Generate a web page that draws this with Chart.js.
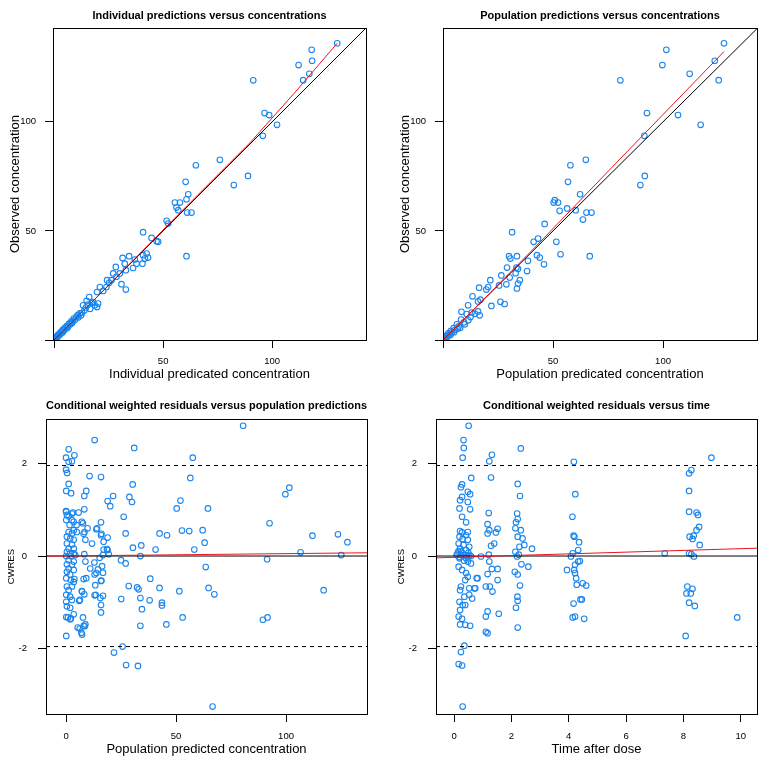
<!DOCTYPE html>
<html>
<head>
<meta charset="utf-8">
<script src="https://cdn.jsdelivr.net/npm/chart.js@4.4.1/dist/chart.umd.min.js"></script>
<style>
  body { margin: 0; background: #fff; width: 775px; height: 762px; position: relative; overflow: hidden; }
  canvas { position: absolute; }
</style>
</head>
<body>
<canvas id="p1" width="385" height="387" style="left:0;top:0"></canvas>
<canvas id="p2" width="385" height="387" style="left:390px;top:0"></canvas>
<canvas id="p3" width="385" height="372" style="left:0;top:390px"></canvas>
<canvas id="p4" width="385" height="372" style="left:390px;top:390px"></canvas>
<script>
// individual predictions (x) vs observed (y)
const indivPoints = [
  [129.8,136.0],[118.1,133.0],[118.3,128.0],[112.1,126.0],[117.0,122.0],[114.2,119.1],[91.3,119.0],
  [96.5,104.0],[98.6,103.1],[102.2,98.6],[95.7,93.6],[76.0,82.6],[65.0,80.1],[60.3,72.5],[88.9,75.2],
  [82.4,71.0],[61.5,66.8],[60.7,64.5],[55.4,63.0],[57.7,63.0],[56.1,60.7],[56.9,59.5],[61.0,58.4],
  [63.0,58.4],[51.6,54.6],[52.3,53.4],[40.8,49.4],[44.7,46.8],[47.0,45.3],[47.7,45.0],[60.7,38.4],
  [34.4,38.4],[31.4,37.6],[40.8,38.9],[42.4,39.6],[43.1,37.8],[41.6,37.3],[40.5,35.0],[37.0,36.9],
  [37.8,35.0],[36.2,33.0],[28.3,33.5],[32.4,35.0],[32.9,32.0],[30.1,30.5],[27.1,30.5],[28.6,29.0],
  [30.9,25.6],[32.9,23.1],[26.3,27.4],[25.2,26.2],[24.3,27.4],[21.0,24.3],[22.5,22.5],[19.7,22.0],
  [24.0,24.3],[16.1,19.7],[14.9,17.9],[17.9,17.4],[20.2,16.7],[19.7,15.1],[13.3,15.9],[17.3,17.0],
  [18.6,15.9],[16.5,14.3],[12.8,12.5],[13.9,13.6],[11.8,12.2],[12.4,11.3],[10.9,11.4],[10.2,10.6],
  [9.6,9.3],[9.0,9.8],[8.5,8.3],[7.9,8.6],[7.4,7.2],[6.9,7.5],[6.4,6.1],[5.9,6.5],[5.4,5.3],
  [4.9,5.6],[4.5,4.3],[4.0,4.6],[3.6,3.4],[3.2,3.7],[2.8,2.6],[2.4,2.9],[2.0,1.9],[1.7,2.2],
  [1.4,1.2],[1.1,1.5],[0.8,0.7],[0.6,0.9],[0.4,0.3],[0.3,0.6],[0.2,0.1],[14.6,14.9],[15.4,16.2],
  [11.2,10.4],[8.1,7.7],[6.1,5.6],[3.9,3.6],[2.2,2.4],[1.0,0.9],[0.5,0.4]
];
const indivFit = [[0.3,0.2],[30,30.2],[60,60.6],[90,90.6],[110,113],[129.8,136]];

// population predictions (x) vs observed (y)
const popPoints = [
  [127.7,136.0],[101.5,133.0],[99.7,126.0],[112.1,122.0],[123.5,128.0],[125.3,119.1],[80.6,119.0],
  [92.7,104.0],[106.8,103.1],[117.1,98.6],[91.5,93.6],[64.9,82.6],[57.9,80.1],[56.8,72.5],[91.7,75.2],
  [89.7,71.0],[62.3,66.8],[50.8,64.1],[50.3,63.0],[52.3,63.0],[56.4,60.3],[53.0,59.2],[60.3,59.5],
  [65.2,58.4],[67.5,58.4],[63.6,55.2],[46.2,53.2],[31.4,49.4],[51.5,45.0],[43.2,46.5],[41.2,45.0],
  [66.7,38.4],[53.4,39.3],[30.0,38.4],[30.6,37.3],[33.6,38.4],[42.7,38.9],[44.0,37.8],[45.9,34.7],
  [38.6,36.3],[33.4,33.2],[29.1,33.2],[38.2,31.6],[34.1,32.6],[33.0,30.6],[30.3,28.6],[28.8,25.5],
  [26.5,29.6],[25.5,25.0],[21.5,27.4],[20.5,24.3],[19.7,23.1],[16.4,24.0],[13.4,20.0],[17.0,18.5],
  [15.9,17.7],[11.4,15.9],[8.4,12.9],[22.0,15.6],[26.1,17.5],[28.0,16.5],[34.1,25.9],[33.6,23.6],
  [34.9,27.4],[15.9,13.1],[16.7,11.3],[14.5,12.0],[12.5,10.5],[10.8,11.9],[9.5,8.1],[8.2,9.4],
  [7.1,6.2],[6.3,7.2],[5.5,4.6],[4.8,5.4],[4.0,3.5],[3.5,4.1],[2.9,2.6],[2.4,3.1],[2.0,1.6],
  [1.6,2.0],[1.2,1.0],[0.9,1.3],[0.6,0.5],[0.4,0.8],[0.2,0.2],[5.0,3.6],[7.8,5.6],[9.9,7.2],
  [11.5,9.0],[3.4,2.3],[13.0,12.6],[6.6,5.2],[1.8,1.2],[0.8,0.4]
];
const popFit = [[0.3,0.2],[40,40.6],[80,82.5],[127.7,132.2]];

// CWRES vs population prediction
const cwresPredPoints = [
  [80.5,2.82],[13.0,2.51],[31.0,2.34],[57.6,2.13],[1.2,2.31],[3.8,2.18],[2.7,2.05],[0.0,2.13],
  [1.2,2.04],[0.0,1.87],[0.5,1.80],[10.7,1.73],[15.9,1.71],[56.5,1.69],[1.2,1.56],[30.3,1.55],
  [0.1,1.41],[2.3,1.36],[9.2,1.41],[8.3,1.30],[101.5,1.48],[99.7,1.34],[21.4,1.30],[18.9,1.19],
  [20.1,1.08],[28.8,1.28],[30.0,1.17],[52.0,1.20],[50.3,1.03],[64.5,1.03],[26.2,0.85],[5.7,0.94],
  [3.2,0.94],[8.3,1.01],[92.5,0.71],[0.0,0.97],[1.2,0.86],[2.7,0.78],[7.7,0.71],[9.8,0.60],
  [14.1,0.60],[15.9,0.73],[4.8,0.67],[42.5,0.49],[45.9,0.45],[52.7,0.55],[56.0,0.54],[62.1,0.56],
  [112.0,0.44],[123.6,0.47],[127.9,0.30],[27.1,0.49],[15.9,0.45],[18.9,0.40],[8.0,0.48],[11.8,0.27],
  [17.1,0.31],[63.0,0.29],[58.3,0.14],[40.7,0.14],[34.2,0.23],[30.4,0.18],[106.6,0.08],[125.1,0.02],
  [33.8,0.0],[91.4,-0.07],[17.1,0.14],[18.9,0.13],[16.8,0.02],[19.4,0.04],[15.3,-0.04],[8.3,0.04],
  [25.0,-0.09],[27.1,-0.16],[63.5,-0.24],[8.8,-0.12],[12.9,-0.14],[11.0,-0.27],[16.4,-0.22],
  [13.8,-0.37],[16.8,-0.36],[9.2,-0.48],[8.0,-0.50],[3.8,-0.50],[15.9,-0.54],[13.3,-0.63],
  [28.5,-0.65],[32.3,-0.68],[33.0,-0.72],[38.3,-0.49],[42.5,-0.69],[51.5,-0.76],[64.8,-0.69],
  [67.4,-0.83],[117.1,-0.74],[7.3,-0.77],[8.3,-0.83],[6.0,-0.97],[13.5,-0.84],[15.6,-0.91],
  [16.8,-0.86],[15.9,-1.06],[15.9,-1.22],[25.1,-0.93],[38.0,-0.96],[33.8,-0.91],[34.5,-1.15],
  [43.6,-1.01],[43.6,-1.07],[53.0,-1.33],[45.6,-1.48],[33.8,-1.51],[89.5,-1.38],[91.6,-1.33],
  [7.7,-1.33],[5.3,-1.55],[7.0,-1.66],[8.8,-1.48],[8.0,-1.51],[0.9,-1.33],[1.9,-1.37],[0.1,-1.73],
  [25.7,-1.96],[21.8,-2.09],[27.3,-2.36],[32.7,-2.38],[66.6,-3.26],
  [0.1,0.96],[0.4,0.89],[2.7,0.92],[0.1,0.78],[3.5,0.74],[1.6,0.67],[3.5,0.56],[1.2,0.52],
  [2.7,0.49],[4.9,0.52],[0.4,0.42],[1.9,0.38],[3.5,0.35],[0.4,0.27],[2.7,0.25],[1.2,0.16],
  [3.5,0.16],[0.4,0.09],[1.9,0.06],[3.5,0.06],[0.1,0.0],[2.2,0.0],[4.2,0.02],[1.2,-0.09],
  [3.5,-0.12],[0.4,-0.18],[2.7,-0.19],[1.2,-0.27],[3.5,-0.30],[0.4,-0.34],[1.9,-0.40],[0.1,-0.48],
  [2.2,-0.52],[3.5,-0.56],[0.4,-0.66],[2.7,-0.66],[1.2,-0.74],[0.1,-0.84],[1.9,-0.88],[0.1,-0.99],
  [2.7,-0.95],[0.4,-1.09],[1.9,-1.12],[0.1,-1.32],[2.2,-1.35],[3.5,-1.26],
  [7.2,0.74],[8.4,0.52],[8.8,0.35],[13.8,0.58],[16.1,0.48],[18.6,0.15],[14.5,-0.29],[13.0,-0.40],
  [16.1,-0.53],[7.2,-0.76],[6.3,-0.95],[8.5,-1.52],[6.2,-1.57],[7.3,-1.70],[13.0,-0.85]
];
const cwresPredFit = [[-9.1,-0.003],[136.8,0.07]];

// CWRES vs time after dose
const cwresTimePoints = [
  [0.51,2.82],[0.33,2.51],[0.34,2.34],[0.30,2.13],[0.60,1.69],[0.28,1.55],[0.24,1.49],[0.48,1.39],
  [0.56,1.34],[0.28,1.28],[0.21,1.21],[0.48,1.17],[0.56,1.01],[0.19,1.03],[0.28,0.85],[0.42,0.73],
  [0.21,0.54],[0.28,0.51],[0.48,0.52],[0.42,0.45],[0.19,0.42],[0.30,0.37],[0.48,0.35],[0.16,0.27],
  [0.33,0.24],[0.53,0.20],[0.21,0.16],[0.42,0.13],[0.09,0.02],[0.24,0.02],[0.36,0.02],[0.53,0.02],
  [0.59,0.0],[0.19,-0.05],[0.42,-0.05],[0.16,-0.23],[0.48,-0.12],[0.59,-0.16],[0.28,-0.30],
  [0.42,-0.37],[0.48,-0.45],[0.39,-0.52],[0.24,-0.66],[0.21,-0.74],[0.53,-0.70],[0.71,-0.70],
  [0.82,-0.48],[0.36,-0.88],[0.53,-0.84],[0.63,-0.92],[0.19,-0.99],[0.30,-1.06],[0.39,-1.06],
  [0.21,-1.17],[0.16,-1.31],[0.28,-1.36],[0.21,-1.48],[0.39,-1.49],[0.56,-1.51],[0.36,-1.94],
  [0.24,-2.08],[0.16,-2.34],[0.28,-2.37],[0.30,-3.26],[0.94,-0.01],[0.79,-0.48],[0.74,-0.70],
  [0.12,0.05],[0.20,-0.02],[0.30,0.06],[0.45,0.0],[0.25,0.10],[0.35,-0.10],[0.15,0.10],[0.50,0.07],
  [1.32,2.19],[1.23,2.05],[1.29,1.70],[1.21,0.93],[1.17,0.69],[1.23,0.56],[1.17,0.49],[1.52,0.59],
  [1.46,0.51],[1.29,0.22],[1.40,0.27],[1.21,0.03],[1.23,-0.12],[1.32,-0.28],[1.52,-0.28],
  [1.17,-0.39],[1.52,-0.52],[1.11,-0.66],[1.25,-0.66],[1.34,-0.77],[1.17,-1.20],[1.11,-1.31],
  [1.56,-1.25],[1.11,-1.64],[1.17,-1.67],
  [2.33,2.33],[2.22,1.56],[2.30,1.30],[2.20,0.92],[2.22,0.80],[2.16,0.73],[2.14,0.60],[2.33,0.56],
  [2.22,0.42],[2.39,0.38],[2.45,0.24],[2.28,0.20],[2.72,0.16],[2.14,0.09],[2.26,0.03],[2.20,-0.01],
  [2.35,-0.18],[2.59,-0.23],[2.12,-0.34],[2.22,-0.40],[2.30,-0.64],[2.21,-0.88],[2.22,-0.97],
  [2.16,-1.12],[2.22,-1.55],
  [4.18,2.04],[4.23,1.34],[4.13,0.85],[4.17,0.44],[4.20,0.42],[4.36,0.30],[4.33,0.13],[4.14,0.06],
  [4.08,-0.01],[4.39,-0.11],[4.33,-0.12],[4.22,-0.19],[3.94,-0.30],[4.19,-0.30],[4.22,-0.37],
  [4.26,-0.48],[4.28,-0.62],[4.49,-0.59],[4.61,-0.64],[4.46,-0.94],[4.17,-1.03],[4.22,-1.31],
  [4.54,-1.36],[4.14,-1.33],[4.41,-0.94],
  [8.98,2.13],[8.28,1.86],[8.20,1.79],[8.20,1.41],[8.20,0.96],[8.46,0.94],[8.51,0.89],[8.55,0.63],
  [8.46,0.56],[8.36,0.44],[8.22,0.42],[8.32,0.37],[8.57,0.24],[8.20,0.06],[8.28,0.04],[8.37,-0.01],
  [7.35,0.06],[8.14,-0.66],[8.32,-0.71],[8.11,-0.81],[8.26,-0.81],[8.20,-1.01],[8.40,-1.08],
  [8.08,-1.73],[9.88,-1.33]
];
const cwresTimeFit = [[-0.63,-0.04],[10.57,0.17]];

const concTicks = [0, 50, 100];
const cwresTicks = [-2, 0, 2];
const timeTicks = [0, 2, 4, 6, 8, 10];
const cwresLimit = 1.96;

const FONT = '"Liberation Sans", Arial, sans-serif';
const BLUE = '#1a86ee';
const RED = '#e8141b';

const pts = arr => arr.map(p => ({x: p[0], y: p[1]}));

const boxPlugin = {
  id: 'box',
  afterDatasetsDraw(chart) {
    const {ctx, chartArea: a} = chart;
    ctx.save();
    ctx.strokeStyle = '#000';
    ctx.lineWidth = 1;
    ctx.strokeRect(Math.round(a.left) + 0.5, Math.round(a.top) + 0.5,
      Math.round(a.right - a.left), Math.round(a.bottom - a.top));
    ctx.restore();
  }
};

function axis(o) {
  return {
    type: 'linear',
    position: o.pos,
    min: o.min,
    max: o.max,
    afterFit: s => { if (o.pos === 'left') s.width = o.size; else s.height = o.size; },
    afterBuildTicks: s => { s.ticks = o.ticks.map(v => ({value: v})); },
    grid: {display: true, drawOnChartArea: false, drawTicks: true, tickLength: 8, color: '#000', lineWidth: 1},
    border: {display: false},
    ticks: {
      color: '#000', font: {family: FONT, size: 9.5}, padding: o.pad,
      maxRotation: 0, autoSkip: false,
      callback: v => (o.hide || []).includes(v) ? '' : String(v)
    },
    title: {display: true, text: o.title, color: '#000', font: {family: FONT, size: o.tsize}, padding: o.tpad}
  };
}

function lineSet(arr, color, dash) {
  return {data: pts(arr), showLine: true, borderColor: color, borderWidth: 1, borderDash: dash || [],
          pointRadius: 0, fill: false, tension: 0};
}

function pointSet(arr) {
  return {data: pts(arr), showLine: false, pointStyle: 'circle', pointRadius: 2.8, pointBorderWidth: 1.1,
          pointBorderColor: BLUE, pointBackgroundColor: 'rgba(0,0,0,0)', borderColor: BLUE};
}

function makePanel(id, p) {
  new Chart(document.getElementById(id), {
    type: 'scatter',
    data: {datasets: p.datasets},
    options: {
      responsive: false,
      animation: false,
      events: [],
      layout: {padding: {left: 0, top: 0, right: p.right, bottom: 0}},
      plugins: {
        legend: {display: false},
        tooltip: {enabled: false},
        title: {display: true, text: p.title, fullSize: false, color: '#000',
                font: {family: FONT, size: 11, weight: 'bold'}, padding: p.titlePad}
      },
      scales: {x: p.x, y: p.y}
    },
    plugins: [boxPlugin]
  });
}

makePanel('p1', {
  title: 'Individual predictions versus concentrations',
  titlePad: {top: 9.4, bottom: 5.4}, right: 19,
  datasets: [lineSet(indivFit, RED), lineSet([[0, 0], [143, 143]], '#000'), pointSet(indivPoints)],
  x: axis({pos: 'bottom', min: -0.5, max: 143, ticks: concTicks, hide: [0], size: 47, pad: 8,
           title: 'Individual predicated concentration', tsize: 13, tpad: {bottom: 5.2}}),
  y: axis({pos: 'left', min: 0, max: 143, ticks: concTicks, hide: [0], size: 53, pad: 9,
           title: 'Observed concentration', tsize: 13, tpad: {top: 7.2}})
});

makePanel('p2', {
  title: 'Population predictions versus concentrations',
  titlePad: {top: 9.4, bottom: 5.4}, right: 18,
  datasets: [lineSet(popFit, RED), lineSet([[0, 0], [143, 143]], '#000'), pointSet(popPoints)],
  x: axis({pos: 'bottom', min: 0, max: 142.7, ticks: concTicks, hide: [0], size: 47, pad: 8,
           title: 'Population predicated concentration', tsize: 13, tpad: {bottom: 5.2}}),
  y: axis({pos: 'left', min: 0, max: 143, ticks: concTicks, hide: [0], size: 53, pad: 9,
           title: 'Observed concentration', tsize: 13, tpad: {top: 7.2}})
});

makePanel('p3', {
  title: 'Conditional weighted residuals versus population predictions',
  titlePad: {top: 9.4, bottom: 6.7}, right: 18,
  datasets: [
    lineSet(cwresPredFit, RED),
    lineSet([[-9.1, 0], [136.8, 0]], '#000'),
    lineSet([[-9.1, cwresLimit], [136.8, cwresLimit]], '#000', [4, 4]),
    lineSet([[-9.1, -cwresLimit], [136.8, -cwresLimit]], '#000', [4, 4]),
    pointSet(cwresPredPoints)
  ],
  x: axis({pos: 'bottom', min: -9.1, max: 136.8, ticks: concTicks, size: 48, pad: 9,
           title: 'Population predicted concentration', tsize: 13, tpad: {bottom: 5.2}}),
  y: axis({pos: 'left', min: -3.42, max: 2.96, ticks: cwresTicks, size: 46, pad: 11,
           title: 'CWRES', tsize: 9.5, tpad: {top: 5.3}})
});

makePanel('p4', {
  title: 'Conditional weighted residuals versus time',
  titlePad: {top: 9.4, bottom: 6.7}, right: 18,
  datasets: [
    lineSet(cwresTimeFit, RED),
    lineSet([[-0.63, 0], [10.57, 0]], '#000'),
    lineSet([[-0.63, cwresLimit], [10.57, cwresLimit]], '#000', [4, 4]),
    lineSet([[-0.63, -cwresLimit], [10.57, -cwresLimit]], '#000', [4, 4]),
    pointSet(cwresTimePoints)
  ],
  x: axis({pos: 'bottom', min: -0.63, max: 10.57, ticks: timeTicks, size: 48, pad: 9,
           title: 'Time after dose', tsize: 13, tpad: {bottom: 5.2}}),
  y: axis({pos: 'left', min: -3.42, max: 2.96, ticks: cwresTicks, size: 46, pad: 11,
           title: 'CWRES', tsize: 9.5, tpad: {top: 5.3}})
});
</script>
</body>
</html>
